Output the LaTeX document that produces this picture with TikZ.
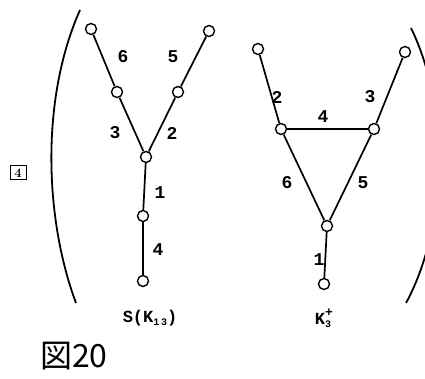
\documentclass[tikz,border=0pt]{standalone}
\usepackage{fontspec}
\setmonofont{Liberation Mono}
\newfontfamily\jpfont{Noto Sans CJK JP}
\usetikzlibrary{positioning}
\newcommand\sublbl[1]{\raisebox{-3pt}{\fontsize{10}{10}\selectfont #1}}
\begin{document}
\begin{tikzpicture}[
      x=1pt, y=-1pt,
      vtx/.style={circle, draw, line width=1.4pt, fill=white,
                  inner sep=0pt, minimum size=11pt},
      elab/.style={font=\fontsize{18}{18}\selectfont\ttfamily\bfseries,
                   inner sep=0pt},
      gcaption/.style={font=\fontsize{17}{17}\selectfont\ttfamily\bfseries,
                  inner sep=0pt},
      edge/.style={line width=1.7pt},
      paren/.style={line width=1.8pt},
    ]
      \useasboundingbox (0,0) rectangle (425,379);
      % S(K_{1,3})
      \node[vtx] (a1) at (91,29) {};
      \node[vtx] (a2) at (209,31) {};
      \node[vtx] (a3) at (117,92) {};
      \node[vtx] (a4) at (178,92) {};
      \node[vtx] (a0) at (146,157) {};
      \node[vtx] (a5) at (143,216) {};
      \node[vtx] (a6) at (143,281) {};
      \draw[edge] (a1) -- (a3);
      \draw[edge] (a3) -- (a0);
      \draw[edge] (a2) -- (a4);
      \draw[edge] (a4) -- (a0);
      \draw[edge] (a0) -- (a5);
      \draw[edge] (a5) -- (a6);
      \node[elab] (la6) at (123,57) {6};
      \node[elab] (la5) at (173,57) {5};
      \node[elab] (la3) at (115,133) {3};
      \node[elab] (la2) at (172,133) {2};
      \node[elab] (la1) at (160,193) {1};
      \node[elab] (la4) at (158,250) {4};
      \node[gcaption] (capa) at (150,318) {S(K\sublbl{1\,3})};
      % K_3^+
      \node[vtx] (b1) at (258,49) {};
      \node[vtx] (b2) at (405,52) {};
      \node[vtx] (b3) at (281,129) {};
      \node[vtx] (b4) at (374,129) {};
      \node[vtx] (b0) at (327,226) {};
      \node[vtx] (b5) at (324,284) {};
      \draw[edge] (b1) -- (b3);
      \draw[edge] (b2) -- (b4);
      \draw[edge] (b3) -- (b4);
      \draw[edge] (b3) -- (b0);
      \draw[edge] (b4) -- (b0);
      \draw[edge] (b0) -- (b5);
      \node[elab] (lb2) at (277,97) {2};
      \node[elab] (lb3) at (370,97) {3};
      \node[elab] (lb4) at (323,117) {4};
      \node[elab] (lb6) at (287,183) {6};
      \node[elab] (lb5) at (363,183) {5};
      \node[elab] (lb1) at (319,260) {1};
      \node[gcaption] (capb) at (323,318)
        {K\makebox[0pt][l]{\raisebox{8pt}{\fontsize{13}{13}\selectfont +}}\sublbl{3}};
      % brackets, number, caption
      \draw[paren] (80,10) .. controls (40,100) and (45,220) .. (76,303);
      \draw[paren] (411,28) .. controls (451,110) and (446,230) .. (406,303);
      \node[draw, line width=1pt, minimum width=16pt, minimum height=14pt,
            inner sep=0pt, font=\fontsize{13}{13}\selectfont\bfseries]
        (num) at (18,173) {4};
      \node[font=\fontsize{32}{32}\selectfont\jpfont, inner sep=0pt,
            anchor=west] (fig) at (40,356) {図20};
    \end{tikzpicture}
\end{document}
